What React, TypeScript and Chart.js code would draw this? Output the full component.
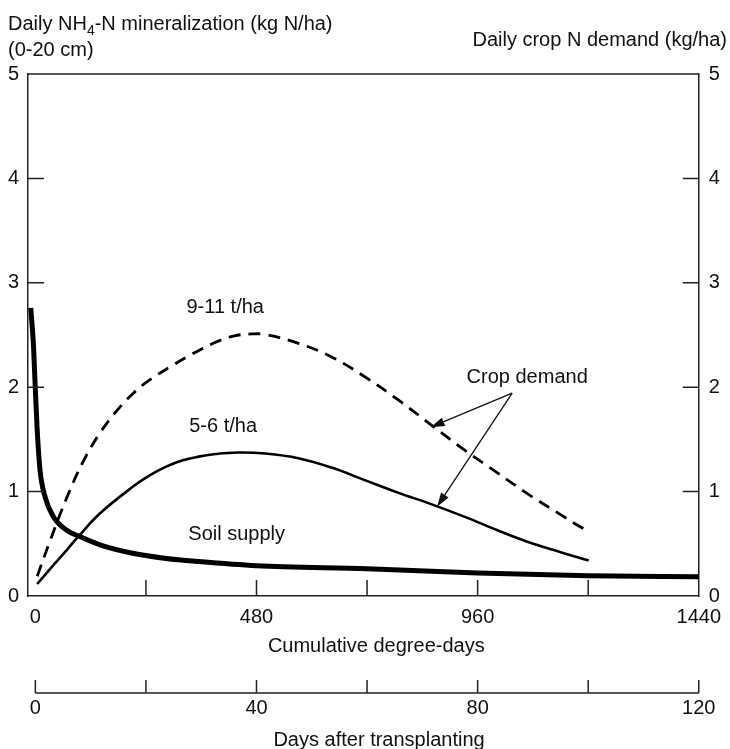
import React, { useEffect, useRef } from 'react';
import { Chart, registerables } from 'chart.js';

Chart.register(...registerables);

// ---- data ----
const soilX = [-10, -4, 0, 4, 10, 21, 39, 68, 96, 140, 211, 284, 355, 480, 720, 960, 1200, 1440];
const soilY = [2.76, 2.39, 1.97, 1.59, 1.21, 0.95, 0.76, 0.63, 0.57, 0.49, 0.41, 0.36, 0.33, 0.29, 0.26, 0.22, 0.195, 0.185];

const lowX = [4, 40, 68, 93, 140, 212, 248, 284, 320, 355, 391, 440, 499, 571, 643, 715, 787, 859, 931, 1003, 1068, 1140, 1201];
const lowY = [0.115, 0.3, 0.44, 0.568, 0.79, 1.048, 1.155, 1.239, 1.3, 1.335, 1.36, 1.375, 1.365, 1.32, 1.23, 1.11, 0.99, 0.88, 0.76, 0.63, 0.52, 0.42, 0.34];

const highX = [4, 32, 68, 104, 140, 176, 212, 248, 298, 341, 391, 430, 470, 499, 571, 643, 715, 787, 859, 931, 1003, 1068, 1140, 1176, 1202];
const highY = [0.19, 0.53, 0.94, 1.29, 1.56, 1.77, 1.94, 2.07, 2.21, 2.32, 2.43, 2.49, 2.51, 2.505, 2.42, 2.29, 2.1, 1.88, 1.64, 1.4, 1.18, 0.98, 0.78, 0.68, 0.616];

const degreeTicks = [0, 240, 480, 720, 960, 1200, 1440];
const degreeLabels = [0, 480, 960, 1440];
const dayTicks = [0, 20, 40, 60, 80, 100, 120];
const dayLabels = [0, 40, 80, 120];
const yTicks = [0, 1, 2, 3, 4, 5];

const leftTitleMain = 'Daily NH';
const leftTitleSub = '4';
const leftTitleRest = '-N mineralization (kg N/ha)';
const leftTitleLine2 = '(0-20 cm)';
const rightTitle = 'Daily crop N demand (kg/ha)';
const xTitle = 'Cumulative degree-days';
const x2Title = 'Days after transplanting';

const FONT = '"Liberation Sans", Arial, Helvetica, sans-serif';
const INK = '#111';
const AXIS = '#222';

function drawArrow(ctx: CanvasRenderingContext2D, x1: number, y1: number, x2: number, y2: number) {
  const a = Math.atan2(y2 - y1, x2 - x1);
  const L = 14;
  const W = 4.5;
  ctx.beginPath();
  ctx.moveTo(x1, y1);
  ctx.lineTo(x2 - L * 0.7 * Math.cos(a), y2 - L * 0.7 * Math.sin(a));
  ctx.stroke();
  ctx.beginPath();
  ctx.moveTo(x2, y2);
  ctx.lineTo(x2 - L * Math.cos(a) + W * Math.sin(a), y2 - L * Math.sin(a) - W * Math.cos(a));
  ctx.lineTo(x2 - L * Math.cos(a) - W * Math.sin(a), y2 - L * Math.sin(a) + W * Math.cos(a));
  ctx.closePath();
  ctx.fill();
}

const decorPlugin = {
  id: 'decor',
  afterDraw(chart: any) {
    const ctx: CanvasRenderingContext2D = chart.ctx;
    const { left, right, top, bottom } = chart.chartArea;
    const x = chart.scales.x;
    const x2 = chart.scales.x2;
    const y = chart.scales.y;
    ctx.save();
    ctx.strokeStyle = AXIS;
    ctx.fillStyle = INK;
    ctx.lineWidth = 1.5;
    // top frame line
    ctx.beginPath();
    ctx.moveTo(left, top);
    ctx.lineTo(right, top);
    ctx.stroke();
    // inward ticks on y axes
    ctx.beginPath();
    yTicks.forEach((v) => {
      if (v === 0 || v === 5) return;
      const py = y.getPixelForValue(v);
      ctx.moveTo(left, py);
      ctx.lineTo(left + 16, py);
      ctx.moveTo(right, py);
      ctx.lineTo(right - 16, py);
    });
    // inward ticks on degree-day axis
    degreeTicks.forEach((v) => {
      if (v === 0 || v === 1440) return;
      const px = x.getPixelForValue(v);
      ctx.moveTo(px, bottom);
      ctx.lineTo(px, bottom - 16);
    });
    ctx.stroke();
    // days axis line and ticks
    const ly = x2.top;
    ctx.beginPath();
    ctx.moveTo(x2.getPixelForValue(0), ly);
    ctx.lineTo(x2.getPixelForValue(120), ly);
    dayTicks.forEach((v) => {
      const px = x2.getPixelForValue(v);
      ctx.moveTo(px, ly);
      ctx.lineTo(px, ly - 13);
    });
    ctx.stroke();

    // titles
    ctx.textBaseline = 'alphabetic';
    ctx.textAlign = 'left';
    ctx.font = `20px ${FONT}`;
    ctx.fillText(leftTitleMain, 8, 30);
    let w = ctx.measureText(leftTitleMain).width;
    ctx.font = `14px ${FONT}`;
    ctx.fillText(leftTitleSub, 8 + w, 35);
    w += ctx.measureText(leftTitleSub).width;
    ctx.font = `20px ${FONT}`;
    ctx.fillText(leftTitleRest, 8 + w, 30);
    ctx.fillText(leftTitleLine2, 8, 56);
    ctx.textAlign = 'right';
    ctx.fillText(rightTitle, 727, 46);
    ctx.textAlign = 'center';
    ctx.fillText(xTitle, x.getPixelForValue(740), 652);
    ctx.fillText(x2Title, x.getPixelForValue(746), 746);

    // annotations (data coordinates)
    ctx.textAlign = 'left';
    const lab = (t: string, dx: number, dy: number) => ctx.fillText(t, x.getPixelForValue(dx), y.getPixelForValue(dy));
    lab('9-11 t/ha', 328, 2.71);
    lab('5-6 t/ha', 334, 1.57);
    lab('Soil supply', 332, 0.54);
    lab('Crop demand', 936, 2.04);

    ctx.lineWidth = 1.3;
    ctx.strokeStyle = INK;
    const ax = x.getPixelForValue(1035);
    const ay = y.getPixelForValue(1.943);
    drawArrow(ctx, ax, ay, x.getPixelForValue(858), y.getPixelForValue(1.617));
    drawArrow(ctx, ax, ay, x.getPixelForValue(872), y.getPixelForValue(0.856));
    ctx.restore();
  },
};

export default function App() {
  const ref = useRef<HTMLCanvasElement | null>(null);
  useEffect(() => {
    if (!ref.current) return;
    const tickFont = { family: FONT, size: 20 };
    const chart = new Chart(ref.current, {
      type: 'line',
      data: {
        datasets: [
          {
            label: 'Soil supply',
            data: soilX.map((v, i) => ({ x: v, y: soilY[i] })),
            borderColor: '#000',
            borderWidth: 5,
            pointRadius: 0,
            cubicInterpolationMode: 'monotone',
            fill: false,
            xAxisID: 'x',
            yAxisID: 'y',
          },
          {
            label: '5-6 t/ha',
            data: lowX.map((v, i) => ({ x: v, y: lowY[i] })),
            borderColor: '#000',
            borderWidth: 2.6,
            pointRadius: 0,
            tension: 0.4,
            fill: false,
            xAxisID: 'x',
            yAxisID: 'y2',
          },
          {
            label: '9-11 t/ha',
            data: highX.map((v, i) => ({ x: v, y: highY[i] })),
            borderColor: '#000',
            borderWidth: 2.8,
            borderDash: [12, 8],
            pointRadius: 0,
            tension: 0.4,
            fill: false,
            xAxisID: 'x',
            yAxisID: 'y2',
          },
        ],
      },
      options: {
        responsive: false,
        animation: false,
        layout: { padding: { top: 74, left: 0, right: 0, bottom: 0 } },
        plugins: { legend: { display: false }, tooltip: { enabled: false } },
        scales: {
          x: {
            type: 'linear',
            position: 'bottom',
            weight: 0,
            min: -16,
            max: 1440,
            afterBuildTicks: (s: any) => {
              s.ticks = degreeTicks.map((v) => ({ value: v }));
            },
            afterFit: (s: any) => {
              s.height = 97;
            },
            ticks: {
              autoSkip: false,
              maxRotation: 0,
              padding: 9,
              color: INK,
              font: tickFont,
              callback: (v: any) => (degreeLabels.includes(Number(v)) ? String(v) : ''),
            },
            grid: { display: false, drawTicks: false },
            border: { display: true, color: AXIS, width: 1.5 },
          },
          x2: {
            type: 'linear',
            position: 'bottom',
            weight: 1,
            min: -16 / 12,
            max: 120,
            afterBuildTicks: (s: any) => {
              s.ticks = dayTicks.map((v) => ({ value: v }));
            },
            afterFit: (s: any) => {
              s.height = 56;
            },
            ticks: {
              autoSkip: false,
              maxRotation: 0,
              padding: 3,
              color: INK,
              font: tickFont,
              callback: (v: any) => (dayLabels.includes(Number(v)) ? String(v) : ''),
            },
            grid: { display: false, drawTicks: false },
            border: { display: false },
          },
          y: {
            position: 'left',
            min: 0,
            max: 5,
            afterBuildTicks: (s: any) => {
              s.ticks = yTicks.map((v) => ({ value: v }));
            },
            afterFit: (s: any) => {
              s.width = 28;
            },
            ticks: { padding: 9, color: INK, font: tickFont },
            grid: { display: false, drawTicks: false },
            border: { display: true, color: AXIS, width: 1.5 },
          },
          y2: {
            position: 'right',
            min: 0,
            max: 5,
            afterBuildTicks: (s: any) => {
              s.ticks = yTicks.map((v) => ({ value: v }));
            },
            afterFit: (s: any) => {
              s.width = 28;
            },
            ticks: { padding: 10, color: INK, font: tickFont },
            grid: { display: false, drawTicks: false },
            border: { display: true, color: AXIS, width: 1.5 },
          },
        },
      } as any,
      plugins: [decorPlugin],
    });
    return () => chart.destroy();
  }, []);
  return (
    <div style={{ position: 'fixed', left: 0, top: 0, width: 730, height: 749, background: '#fff' }}>
      <canvas ref={ref} width={730} height={749} style={{ display: 'block' }} />
    </div>
  );
}
